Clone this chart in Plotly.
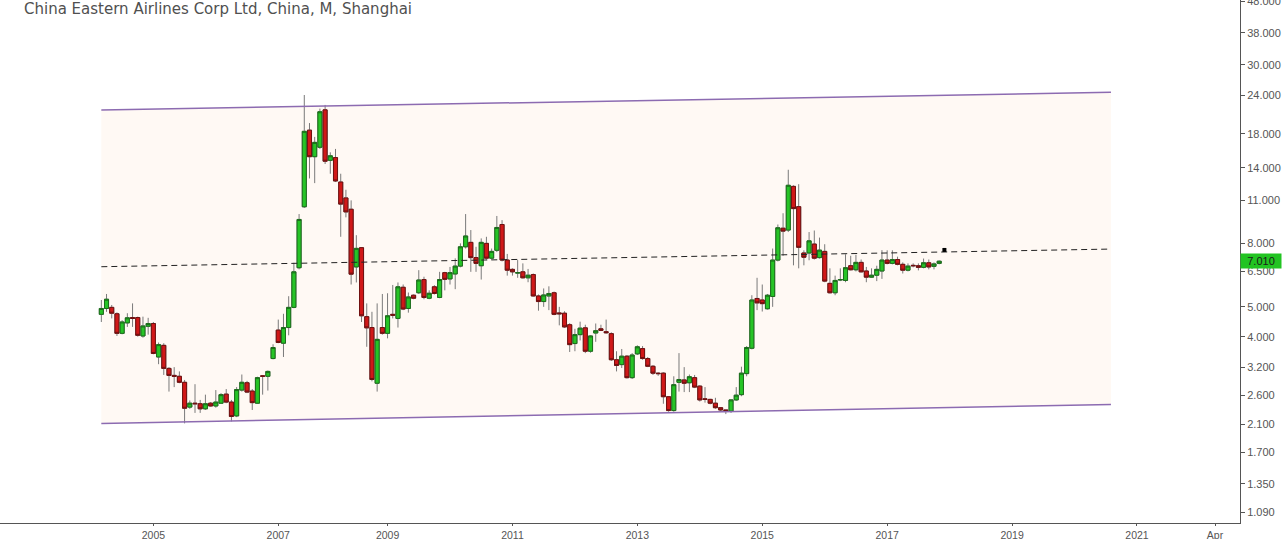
import math
import plotly.graph_objects as go

# ---------------- data (monthly OHLC, China Eastern Airlines, Shanghai) ----------------
open_ = [4.73, 4.94, 4.98, 4.75, 4.11, 4.44, 4.62, 4.62, 4.03, 4.33,
         4.42, 3.45, 3.76, 3.17, 3.01, 2.99, 2.86, 2.38, 2.45, 2.44,
         2.35, 2.45, 2.40, 2.45, 2.62, 2.47, 2.23, 2.70, 2.85, 2.68,
         2.45, 3.00, 2.99, 3.41, 4.21, 3.82, 4.29, 4.98, 6.68, 10.49,
         18.5, 15.2, 16.3, 21.5, 14.8, 15.1, 12.6, 11.2, 10.3, 6.72,
         7.75, 4.65, 4.29, 2.84, 4.29, 4.11, 4.73, 4.59, 5.78, 4.94,
         5.45, 5.55, 6.12, 5.33, 5.80, 5.36, 6.44, 6.15, 6.38, 6.76,
         7.80, 8.06, 7.20, 6.78, 8.00, 7.17, 7.60, 9.20, 7.07, 6.60,
         6.42, 6.48, 6.20, 6.35, 5.42, 5.20, 5.42, 5.55, 4.78, 4.77,
         4.38, 3.81, 4.07, 4.28, 3.60, 4.12, 4.25, 4.16, 4.10, 3.38,
         3.26, 3.47, 2.96, 3.53, 3.67, 3.41, 3.22, 3.06, 3.06, 2.57,
         2.32, 2.86, 2.91, 2.85, 2.96, 2.78, 2.53, 2.52, 2.45, 2.37,
         2.33, 2.31, 2.51, 2.61, 3.05, 3.68, 5.32, 5.26, 4.93, 5.40,
         7.07, 8.95, 8.83, 12.2, 10.5, 7.45, 7.45, 7.96, 7.20, 7.54,
         5.95, 5.55, 6.10, 6.08, 6.78, 6.58, 6.95, 6.52, 6.23, 6.32,
         6.52, 7.07, 6.90, 7.10, 6.85, 6.56, 6.80, 6.78, 6.70, 6.93,
         6.75, 6.90]
high = [5.26, 5.50, 5.07, 4.80, 4.53, 4.77, 5.13, 4.65, 4.65, 4.61,
        4.47, 3.84, 3.82, 3.20, 3.20, 3.10, 2.91, 2.50, 2.82, 2.51,
        2.61, 2.47, 2.70, 2.64, 2.72, 2.51, 2.76, 3.03, 2.89, 2.72,
        2.98, 3.01, 3.12, 3.79, 4.55, 4.75, 5.41, 6.93, 9.94, 24.0,
        19.5, 17.6, 21.7, 22.3, 15.7, 16.1, 13.4, 11.9, 11.0, 8.50,
        7.78, 5.13, 4.82, 5.13, 5.50, 5.53, 5.88, 5.99, 5.90, 5.56,
        5.48, 6.56, 6.25, 5.65, 5.87, 6.48, 6.48, 6.72, 7.16, 8.00,
        9.94, 8.83, 7.80, 8.30, 8.40, 7.70, 9.80, 9.50, 7.40, 6.65,
        7.07, 6.90, 6.62, 6.40, 5.48, 5.73, 5.82, 5.60, 5.00, 4.84,
        4.43, 4.25, 4.48, 4.38, 4.05, 4.42, 4.38, 4.55, 4.14, 3.60,
        3.66, 3.50, 3.55, 3.76, 3.74, 3.45, 3.25, 3.08, 3.08, 2.58,
        2.99, 3.55, 3.20, 3.03, 3.02, 2.80, 2.76, 2.53, 2.55, 2.38,
        2.33, 2.52, 2.76, 3.21, 3.74, 5.45, 6.20, 5.90, 5.50, 7.70,
        9.20, 10.0, 13.8, 12.3, 12.4, 7.60, 8.70, 8.80, 8.35, 7.95,
        6.65, 6.30, 6.65, 7.38, 7.30, 7.35, 7.10, 6.72, 6.65, 6.78,
        7.61, 7.60, 7.60, 7.25, 6.95, 6.90, 6.90, 6.90, 7.15, 7.10,
        6.95, 7.05]
low = [4.47, 4.82, 4.59, 4.03, 4.08, 4.31, 4.31, 4.01, 3.98, 4.07,
       3.52, 3.27, 3.02, 2.67, 2.76, 2.84, 2.11, 2.35, 2.28, 2.28,
       2.33, 2.39, 2.37, 2.44, 2.45, 2.14, 2.21, 2.67, 2.64, 2.33,
       2.44, 2.61, 2.69, 3.39, 3.82, 3.45, 4.05, 4.95, 6.60, 10.4,
       12.94, 12.5, 16.1, 14.4, 13.4, 12.6, 8.40, 9.70, 5.90, 5.99,
       4.47, 3.72, 2.88, 2.67, 4.07, 3.96, 4.59, 4.29, 4.88, 4.79,
       5.29, 5.50, 5.29, 5.29, 5.48, 5.33, 5.65, 5.90, 5.70, 6.70,
       7.70, 6.48, 6.48, 6.12, 7.10, 7.10, 7.50, 7.00, 6.30, 6.30,
       6.20, 6.17, 6.00, 5.40, 4.86, 5.00, 4.88, 4.70, 4.36, 4.28,
       3.58, 3.60, 3.90, 3.55, 3.56, 3.86, 4.18, 4.10, 3.35, 3.10,
       3.18, 2.94, 2.93, 3.50, 3.38, 3.20, 3.02, 3.00, 2.44, 2.30,
       2.30, 2.67, 2.66, 2.66, 2.74, 2.48, 2.46, 2.43, 2.35, 2.31,
       2.26, 2.28, 2.49, 2.58, 2.99, 3.65, 4.88, 4.83, 4.90, 5.00,
       7.00, 7.30, 8.70, 6.80, 6.65, 6.80, 7.06, 7.10, 7.15, 6.00,
       5.52, 5.45, 6.05, 6.00, 6.55, 6.50, 6.45, 6.00, 6.20, 6.05,
       6.15, 6.85, 6.85, 6.80, 6.40, 6.50, 6.70, 6.55, 6.65, 6.60,
       6.60, 6.85]
close = [4.94, 5.29, 4.77, 4.11, 4.47, 4.61, 4.59, 4.05, 4.34, 4.42,
         3.54, 3.78, 3.17, 3.01, 2.99, 2.86, 2.36, 2.45, 2.44, 2.35,
         2.44, 2.40, 2.47, 2.61, 2.47, 2.22, 2.71, 2.86, 2.66, 2.46,
         2.96, 2.99, 3.10, 3.70, 3.84, 4.29, 4.98, 6.48, 9.55, 18.34,
         15.2, 16.9, 21.2, 14.7, 15.3, 12.7, 10.7, 10.1, 6.37, 7.71,
         4.68, 4.28, 2.92, 3.93, 4.11, 4.68, 4.70, 5.80, 4.92, 5.38,
         5.33, 6.10, 5.36, 5.53, 5.52, 6.12, 6.13, 6.44, 6.76, 7.80,
         8.45, 7.20, 6.90, 8.06, 7.17, 7.54, 9.00, 7.07, 6.56, 6.48,
         6.44, 6.20, 6.32, 5.42, 5.20, 5.46, 5.52, 4.73, 4.75, 4.31,
         3.78, 4.07, 4.27, 3.60, 4.03, 4.19, 4.20, 4.13, 3.38, 3.24,
         3.47, 2.96, 3.50, 3.72, 3.41, 3.22, 3.06, 3.05, 2.57, 2.32,
         2.81, 2.92, 2.84, 2.98, 2.76, 2.51, 2.52, 2.45, 2.37, 2.33,
         2.32, 2.51, 2.60, 3.06, 3.70, 5.26, 5.15, 5.12, 5.45, 7.07,
         8.98, 8.76, 12.3, 10.35, 7.77, 7.22, 8.15, 7.17, 7.61, 6.05,
         5.55, 6.08, 6.12, 6.68, 6.58, 6.95, 6.48, 6.23, 6.32, 6.60,
         7.07, 6.90, 7.10, 6.85, 6.56, 6.76, 6.78, 6.70, 6.93, 6.72,
         6.87, 7.01]

FIRST_MONTH = (2004, 3)
SUSPENDED_MONTHS = ["2007-12", "2008-01", "2008-02"]   # no bars for these months

tick_months = ["2005-01", "2007-01", "2009-01", "2011-01", "2013-01",
               "2015-01", "2017-01", "2019-01", "2021-01", "2022-04"]
tick_labels = ["2005", "2007", "2009", "2011", "2013",
               "2015", "2017", "2019", "2021", "Apr"]

price_ticks = [1.09, 1.35, 1.7, 2.1, 2.6, 3.2, 4.0, 5.0, 6.5, 8.0,
               11.0, 14.0, 18.0, 24.0, 30.0, 38.0, 48.0]
last_price = 7.01

# drawings (trend channel + mid dashed line), anchored at months / prices
channel_months = ["2004-03", "2020-08"]
channel_upper = [21.48, 24.48]
channel_lower = [2.108, 2.427]
channel_mid = [6.73, 7.67]
marker_month = "2017-12"
marker_price = 7.62

TITLE = "China Eastern Airlines Corp Ltd, China, M, Shanghai"

# ---------------- bar-index time axis (TradingView style) ----------------
def build_months(n):
    out = []
    y, m = FIRST_MONTH
    while len(out) < n:
        s = f"{y:04d}-{m:02d}"
        if s not in SUSPENDED_MONTHS:
            out.append(s)
        m += 1
        if m > 12:
            m, y = 1, y + 1
    return out

all_months = build_months(260)
pos = {mo: i for i, mo in enumerate(all_months)}
x = [pos[mo] for mo in all_months[:len(close)]]

body_hi = [max(o, c) for o, c in zip(open_, close)]
body_lo = [min(o, c) for o, c in zip(open_, close)]

fig = go.Figure()

cx = [pos[m] for m in channel_months]
# shaded channel as a shape below the traces
fig.add_shape(type="path", xref="x", yref="y", layer="below",
              path=(f"M {cx[0]},{channel_lower[0]} L {cx[1]},{channel_lower[1]} "
                    f"L {cx[1]},{channel_upper[1]} L {cx[0]},{channel_upper[0]} Z"),
              fillcolor="#fff9f4", line=dict(width=0))

# wicks (grey)
fig.add_trace(go.Candlestick(
    x=x, open=open_, high=high, low=low, close=close,
    increasing=dict(line=dict(color="#7a7a7a", width=1), fillcolor="#7a7a7a"),
    decreasing=dict(line=dict(color="#7a7a7a", width=1), fillcolor="#7a7a7a"),
    whiskerwidth=0, hoverinfo="skip"))
# bodies
fig.add_trace(go.Candlestick(
    x=x, open=open_, high=body_hi, low=body_lo, close=close,
    increasing=dict(line=dict(color="#1b6e1b", width=1), fillcolor="#26c426"),
    decreasing=dict(line=dict(color="#701010", width=1), fillcolor="#d01818"),
    whiskerwidth=0, hoverinfo="skip"))

fig.add_trace(go.Scatter(x=cx, y=channel_lower, mode="lines",
                         line=dict(color="#8c6bb1", width=1.5), hoverinfo="skip"))
fig.add_trace(go.Scatter(x=cx, y=channel_upper, mode="lines",
                         line=dict(color="#8c6bb1", width=1.5), hoverinfo="skip"))
fig.add_trace(go.Scatter(x=cx, y=channel_mid, mode="lines",
                         line=dict(color="#222222", width=1, dash="6px,4px"),
                         hoverinfo="skip"))
fig.add_trace(go.Scatter(x=[pos[marker_month]], y=[marker_price], mode="markers",
                         marker=dict(color="black", size=4, symbol="square"),
                         hoverinfo="skip"))

x_min = -19.47
x_max = 218.8

fig.update_layout(
    width=1282, height=539,
    margin=dict(l=0, r=42, t=0, b=16, autoexpand=False),
    paper_bgcolor="white", plot_bgcolor="white",
    showlegend=False, hovermode=False,
    boxmode="overlay", boxgap=0.22, boxgroupgap=0,
    font=dict(family="Liberation Sans, Arial, sans-serif", size=11, color="#555555"),
)
fig.update_xaxes(
    range=[x_min, x_max], rangeslider=dict(visible=False),
    tickmode="array", tickvals=[pos[m] for m in tick_months], ticktext=tick_labels,
    ticks="outside", ticklen=2, tickcolor="#555555",
    showline=True, linecolor="#555555", linewidth=1,
    showgrid=False, zeroline=False, ticklabeloverflow="allow",
    tickfont=dict(size=10.5, color="#555555"),
)
fig.update_yaxes(
    type="log", side="right",
    range=[math.log10(1.009), math.log10(48.5)],
    tickmode="array", tickvals=price_ticks, tickformat=".3f",
    ticks="outside", ticklen=4, tickcolor="#555555",
    showline=True, linecolor="#555555", linewidth=1,
    showgrid=False, zeroline=False, ticklabeloverflow="allow",
    tickfont=dict(size=11, color="#555555"),
)

fig.add_annotation(xref="paper", yref="paper", x=22 / 1240, y=1 - 9 / 523,
                   xanchor="left", yanchor="middle", showarrow=False,
                   text=TITLE,
                   font=dict(family="DejaVu Sans", size=15, color="#505050"))
fig.add_annotation(xref="paper", yref="y", x=1, y=math.log10(last_price),
                   xanchor="left", yanchor="middle", showarrow=False,
                   text=f"{last_price:.3f}", bgcolor="#22c422",
                   width=40, height=14, borderpad=0,
                   font=dict(size=11, color="#1a1a1a"))

fig.write_html("out.html",
               config={"displayModeBar": False},
               post_script="document.body.style.margin='0px';"
                           "document.body.style.overflow='hidden';")
